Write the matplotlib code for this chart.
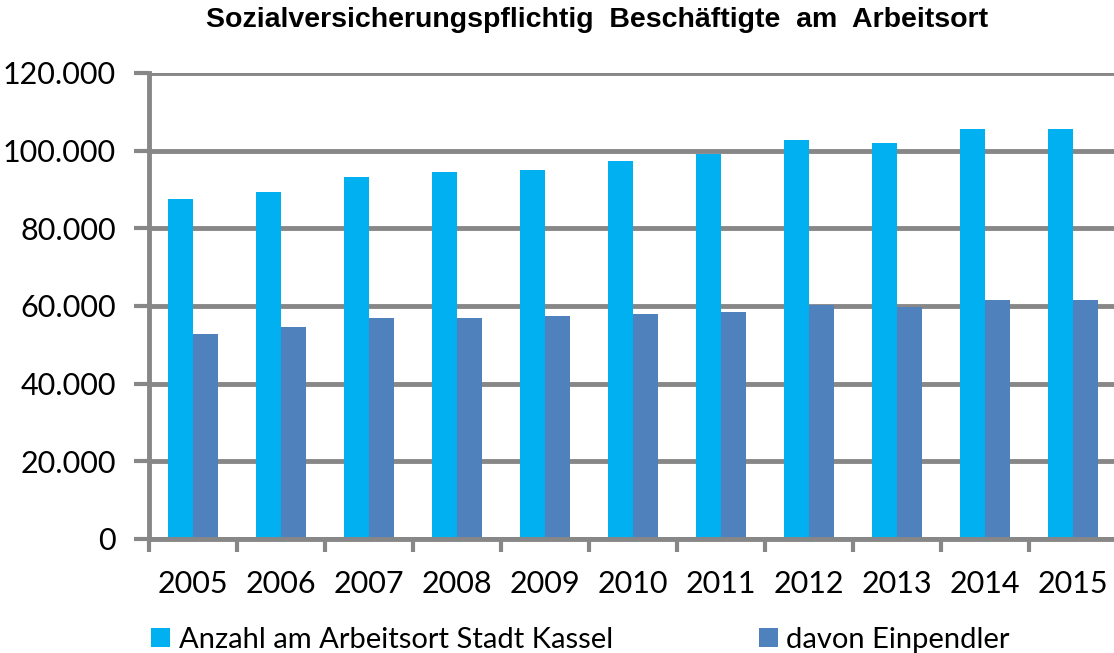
import matplotlib.pyplot as plt
from matplotlib.ticker import FuncFormatter, FixedLocator
import numpy as np

years = ['2005', '2006', '2007', '2008', '2009', '2010', '2011', '2012', '2013', '2014', '2015']
anzahl = [87500, 89300, 93200, 94500, 95000, 97300, 99100, 102800, 102000, 105700, 105700]
einpendler = [52800, 54600, 56900, 56900, 57400, 57900, 58400, 60300, 59700, 61500, 61500]
labels = ['Anzahl am Arbeitsort Stadt Kassel', 'davon Einpendler']
title = 'Sozialversicherungspflichtig  Beschäftigte  am  Arbeitsort'

grey = '#878787'
tick_font = ['Lato', 'DejaVu Sans']

fig = plt.figure(figsize=(11.14, 6.53), dpi=100)
ax = fig.add_axes([149 / 1114, 114 / 653, 968 / 1114, 466 / 653])

x = np.arange(len(years))
w = 0.285
ax.bar(x - w / 2, anzahl, w, color='#00B0F0', label=labels[0], zorder=3)
ax.bar(x + w / 2, einpendler, w, color='#4F81BD', label=labels[1], zorder=3)

ax.set_xlim(-0.5, len(years) - 0.5)
ax.set_ylim(0, 120000)
ax.set_yticks(np.arange(0, 120001, 20000))
ax.yaxis.set_major_formatter(FuncFormatter(lambda v, p: f'{int(v):,}'.replace(',', '.')))
ax.yaxis.grid(True, color=grey, linewidth=3.5, zorder=0)

ax.set_xticks(x)
ax.set_xticklabels(years)
ax.xaxis.set_minor_locator(FixedLocator(np.arange(-0.5, len(years), 1)))
ax.tick_params(axis='x', which='major', length=0, pad=22)
ax.tick_params(axis='x', which='minor', length=9, width=3, color=grey)
ax.tick_params(axis='y', length=11, width=3, color=grey, pad=13)
for lab in ax.get_xticklabels() + ax.get_yticklabels():
    lab.set_family(tick_font)
    lab.set_fontsize(22)

for s in ['top', 'right']:
    ax.spines[s].set_visible(False)
for s in ['left', 'bottom']:
    ax.spines[s].set_color(grey)
    ax.spines[s].set_linewidth(3.5)
    ax.spines[s].set_zorder(4)

fig.text(597 / 1114, 1 - 20 / 653, title, ha='center', va='center',
         fontsize=20.5, fontweight='bold', family=['Liberation Sans', 'DejaVu Sans'])

fig.legend(loc='center left', bbox_to_anchor=(151 / 1114, 1 - 640 / 653), ncol=2,
           frameon=False, prop={'family': tick_font, 'size': 21},
           handlelength=0.65, handleheight=0.65, handletextpad=0.3, columnspacing=5.0,
           borderaxespad=0, borderpad=0)

fig.savefig('out.png', dpi=100)
